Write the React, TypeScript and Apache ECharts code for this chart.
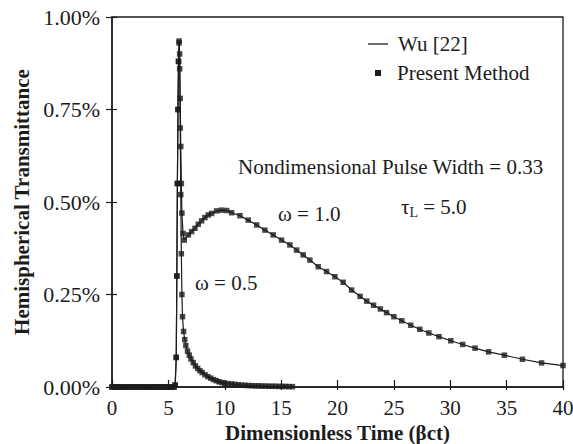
import React, { useEffect, useRef } from "react";
import * as echarts from "echarts";

// Dimensionless time / transmittance (%) pairs
const omega10: [number, number][] = [
  [0, 0], [0.25, 0], [0.5, 0], [0.75, 0], [1, 0], [1.25, 0], [1.5, 0], [1.75, 0], [2, 0], [2.25, 0],
  [2.5, 0], [2.75, 0], [3, 0], [3.25, 0], [3.5, 0], [3.75, 0], [4, 0], [4.25, 0], [4.5, 0], [4.75, 0],
  [5, 0], [5.25, 0], [5.5, 0], [5.6, 0.005], [5.7, 0.08], [5.75, 0.3], [5.8, 0.55], [5.85, 0.75],
  [5.9, 0.88], [5.95, 0.935], [6.0, 0.9], [6.05, 0.78], [6.1, 0.65], [6.15, 0.55], [6.2, 0.47],
  [6.3, 0.415], [6.41, 0.397], [6.77, 0.411], [7.06, 0.42], [7.36, 0.429], [7.65, 0.44], [7.95, 0.449],
  [8.24, 0.458], [8.54, 0.465], [8.84, 0.469], [9.28, 0.476], [9.72, 0.478], [10.17, 0.477],
  [10.61, 0.471], [11.35, 0.463], [12.08, 0.451], [12.83, 0.438], [13.56, 0.424], [14.3, 0.411],
  [15.04, 0.397], [15.78, 0.384], [16.37, 0.37], [16.96, 0.357], [17.55, 0.343], [18.29, 0.325],
  [19.03, 0.312], [19.77, 0.298], [20.5, 0.283], [21.25, 0.262], [22.0, 0.245], [22.6, 0.232],
  [23.2, 0.221], [23.8, 0.211], [24.35, 0.201], [25.0, 0.19], [25.7, 0.179], [26.5, 0.167],
  [27.3, 0.156], [28.1, 0.146], [29.0, 0.136], [30.05, 0.125], [31.1, 0.115], [32.2, 0.105],
  [33.4, 0.095], [34.8, 0.086], [36.4, 0.075], [38.1, 0.065], [40, 0.058],
];

const omega05: [number, number][] = [
  [0, 0], [0.25, 0], [0.5, 0], [0.75, 0], [1, 0], [1.25, 0], [1.5, 0], [1.75, 0], [2, 0], [2.25, 0],
  [2.5, 0], [2.75, 0], [3, 0], [3.25, 0], [3.5, 0], [3.75, 0], [4, 0], [4.25, 0], [4.5, 0], [4.75, 0],
  [5, 0], [5.25, 0], [5.5, 0], [5.6, 0.005], [5.7, 0.08], [5.75, 0.3], [5.8, 0.55], [5.85, 0.75],
  [5.9, 0.88], [5.95, 0.93], [6.0, 0.86], [6.05, 0.7], [6.1, 0.52], [6.15, 0.36], [6.2, 0.25],
  [6.25, 0.19], [6.35, 0.15], [6.45, 0.128], [6.55, 0.112], [6.7, 0.097], [6.85, 0.086], [7.0, 0.076],
  [7.2, 0.066], [7.4, 0.057], [7.6, 0.05], [7.8, 0.044], [8.0, 0.039], [8.25, 0.033], [8.5, 0.028],
  [8.75, 0.024], [9.0, 0.02], [9.25, 0.017], [9.5, 0.014], [9.75, 0.012], [10.0, 0.01], [10.3, 0.009],
  [10.6, 0.008], [10.9, 0.007], [11.2, 0.006], [11.5, 0.005], [11.8, 0.0045], [12.1, 0.004],
  [12.4, 0.0035], [12.7, 0.003], [13.0, 0.003], [13.3, 0.0025], [13.6, 0.0025], [13.9, 0.002],
  [14.2, 0.002], [14.5, 0.002], [14.8, 0.0015], [15.1, 0.0015], [15.4, 0.0015], [15.7, 0.001], [16.0, 0.001],
];

const xTicks = [0, 5, 10, 15, 20, 25, 30, 35, 40];
const yTicks = [0, 0.25, 0.5, 0.75, 1.0];

const legendLabels = ["Wu [22]", "Present Method"];
const annotations = {
  pulse: "Nondimensional Pulse Width = 0.33",
  w10: "ω = 1.0",
  w05: "ω = 0.5",
};

const INK = "#1c1c1c";
const FONT = "Liberation Serif";
const TXT = 21;

export default function App() {
  const ref = useRef<HTMLDivElement>(null);
  useEffect(() => {
    if (!ref.current) return;
    const chart = echarts.init(ref.current, undefined, { renderer: "svg" });
    const xMin = xTicks[0];
    const xMax = xTicks[xTicks.length - 1];
    const yMin = yTicks[0];
    const yMax = yTicks[yTicks.length - 1];
    const grid = { left: 112, right: 10, top: 17, bottom: 57 };
    const lineSeries = (data: [number, number][]) => ({
      type: "line",
      data,
      showSymbol: false,
      symbol: "none",
      lineStyle: { color: INK, width: 1.2 },
      z: 2,
    });
    const markSeries = (data: [number, number][]) => ({
      type: "scatter",
      data,
      symbol: "rect",
      symbolSize: 5.5,
      itemStyle: { color: INK },
      z: 3,
    });
    const plain = (text: string, x: number, y: number) => ({
      type: "text",
      x,
      y,
      style: { text, font: `${TXT}px "${FONT}"`, fill: INK, verticalAlign: "middle" },
    });
    chart.setOption({
      animation: false,
      backgroundColor: "#ffffff",
      grid: {
        ...grid,
        containLabel: false,
        outerBoundsMode: "none",
        show: true,
        borderColor: INK,
        borderWidth: 1.3,
      },
      xAxis: [
        {
          type: "value",
          min: xMin,
          max: xMax,
          interval: 5,
          axisLine: { lineStyle: { color: INK, width: 1.5 } },
          axisTick: { inside: true, length: 7, lineStyle: { color: INK, width: 1.2 } },
          axisLabel: { color: INK, fontFamily: FONT, fontSize: 21, margin: 10 },
          splitLine: { show: false },
          name: "Dimensionless Time (βct)",
          nameLocation: "middle",
          nameGap: 30,
          nameTextStyle: { color: INK, fontFamily: FONT, fontSize: 21, fontWeight: "bold" },
        },
        {
          type: "value",
          position: "bottom",
          min: xMin,
          max: xMax,
          interval: 5,
          axisLine: { show: false },
          axisTick: { inside: false, length: 3, lineStyle: { color: INK, width: 1.2 } },
          axisLabel: { show: false },
          splitLine: { show: false },
        },
      ],
      yAxis: [
        {
          type: "value",
          min: yMin,
          max: yMax,
          interval: 0.25,
          axisLine: { show: true, lineStyle: { color: INK, width: 1.5 } },
          axisTick: { show: true, inside: false, length: 6, lineStyle: { color: INK, width: 1.2 } },
          axisLabel: {
            color: INK,
            fontFamily: FONT,
            fontSize: 22,
            margin: 12,
            formatter: (v: number) => v.toFixed(2) + "%",
          },
          splitLine: { show: false },
          name: "Hemispherical Transmittance",
          nameLocation: "middle",
          nameGap: 80,
          nameRotate: 90,
          nameTextStyle: { color: INK, fontFamily: FONT, fontSize: 21, fontWeight: "bold" },
        },
        {
          type: "value",
          position: "left",
          min: yMin,
          max: yMax,
          interval: 0.25,
          axisLine: { show: false },
          axisTick: { show: true, inside: true, length: 5, lineStyle: { color: INK, width: 1.2 } },
          axisLabel: { show: false },
          splitLine: { show: false },
        },
      ],
      series: [
        lineSeries(omega10),
        lineSeries(omega05),
        markSeries(omega10),
        markSeries(omega05),
      ],
      graphic: [
        { type: "line", shape: { x1: 368, y1: 44, x2: 388, y2: 44 }, style: { stroke: INK, lineWidth: 1.3 } },
        plain(legendLabels[0], 398, 44),
        { type: "rect", shape: { x: 375, y: 70, width: 6, height: 6 }, style: { fill: INK } },
        plain(legendLabels[1], 397, 73),
        plain(annotations.pulse, 238, 167),
        {
          type: "text",
          x: 401,
          y: 207,
          style: {
            text: "{t|τ}{s|L}{t| = 5.0}",
            fill: INK,
            verticalAlign: "middle",
            rich: {
              t: { fontFamily: FONT, fontSize: TXT, fill: INK },
              s: { fontFamily: FONT, fontSize: 14, fill: INK, padding: [11, 0, 0, 0] },
            },
          },
        },
        plain(annotations.w10, 278, 214),
        plain(annotations.w05, 195, 283),
      ],
    });
    return () => chart.dispose();
  }, []);
  return <div ref={ref} style={{ width: 573, height: 444, position: "absolute", left: 0, top: 0 }} />;
}
